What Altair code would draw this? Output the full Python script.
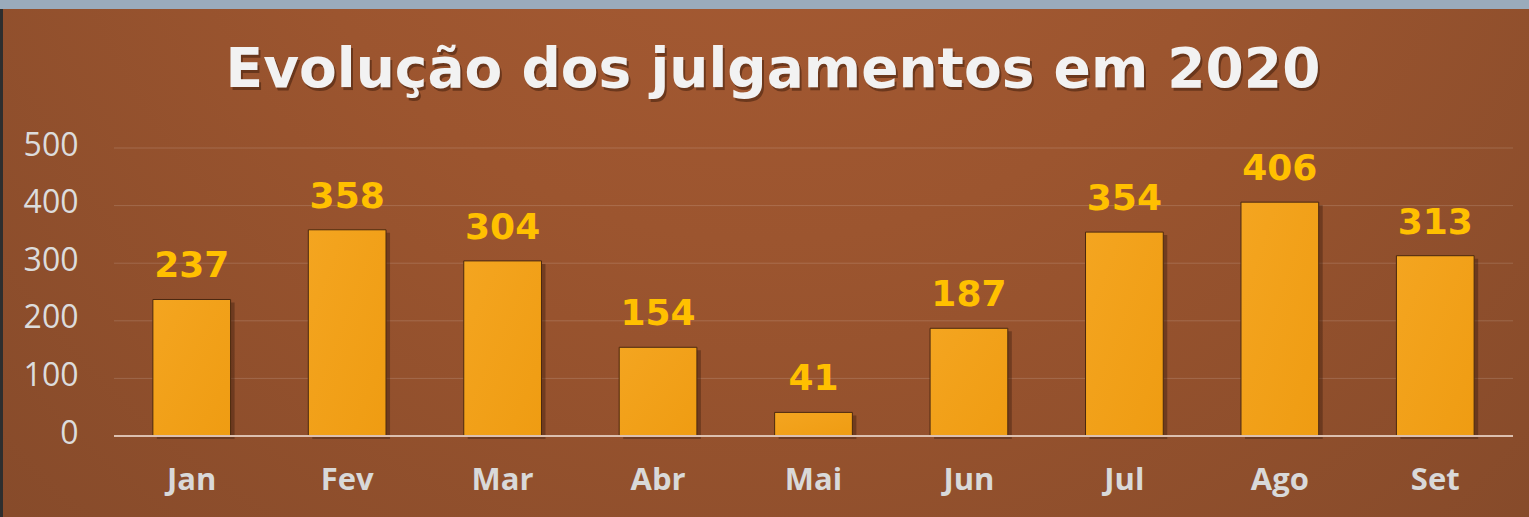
import altair as alt
import pandas as pd

months = ["Jan", "Fev", "Mar", "Abr", "Mai", "Jun", "Jul", "Ago", "Set"]
values = [237, 358, 304, 154, 41, 187, 354, 406, 313]
y_ticks = [0, 100, 200, 300, 400, 500]
title_text = "Evolução dos julgamentos em 2020"

df = pd.DataFrame({"mes": months, "n": values})
grid_df = pd.DataFrame({"n": y_ticks[1:]})
one = pd.DataFrame({"a": [0]})

W, H = 1399, 288
PL, PT, PR, PB = 114, 148, 16, 81

x_axis = alt.Axis(title=None, labelAngle=0, ticks=False, domain=False, grid=False,
                  labelFont="Open Sans", labelFontWeight="bold", labelFontSize=31,
                  labelColor="#d9d9d9", labelPadding=29, zindex=1)
y_axis = alt.Axis(title=None, values=y_ticks, ticks=False, domain=False, grid=False,
                  labelFont="Open Sans", labelFontSize=32, labelColor="#dcdcdc",
                  labelPadding=36, labelOffset=-3, zindex=1)
y_scale = alt.Scale(domain=[0, 500])

x_enc = alt.X("mes:N", sort=months,
              scale=alt.Scale(paddingInner=0.5, paddingOuter=0.25), axis=x_axis)
y_enc = alt.Y("n:Q", scale=y_scale, axis=y_axis)

bg = alt.Chart(one).mark_rect(
    color=alt.Gradient(gradient="radial",
                       stops=[alt.GradientStop(color="#a95c34", offset=0),
                              alt.GradientStop(color="#9c552f", offset=0.45),
                              alt.GradientStop(color="#854a2a", offset=1)],
                       x1=0.5, y1=0.15, x2=0.5, y2=0.15, r1=0, r2=0.75)
).encode(x=alt.value(-PL), x2=alt.value(W + PR), y=alt.value(-PT), y2=alt.value(H + PB))

top_strip = alt.Chart(one).mark_rect(color="#9aabbc").encode(
    x=alt.value(-PL), x2=alt.value(W + PR), y=alt.value(-PT), y2=alt.value(-PT + 9))
left_strip = alt.Chart(one).mark_rect(color="#2e2e2e").encode(
    x=alt.value(-PL), x2=alt.value(-PL + 3), y=alt.value(-PT + 9), y2=alt.value(H + PB))

grid = alt.Chart(grid_df).mark_rule(color="#ffffff", opacity=0.15, strokeWidth=1).encode(
    y=y_enc, x=alt.value(0), x2=alt.value(W))

shadow = alt.Chart(df).mark_bar(color="#3a1c0c", opacity=0.4, xOffset=4, yOffset=3, x2Offset=4).encode(
    x=x_enc, y=y_enc)

bars = alt.Chart(df).mark_bar(
    color=alt.Gradient(gradient="linear",
                       stops=[alt.GradientStop(color="#f4a520", offset=0),
                              alt.GradientStop(color="#ef9c12", offset=1)],
                       x1=0, y1=0, x2=1, y2=1),
    stroke="#4a2810", strokeWidth=1).encode(x=x_enc, y=y_enc)

labels = alt.Chart(df).mark_text(font="DejaVu Sans", fontWeight="bold", fontSize=36, color="#ffc000",
                                 baseline="alphabetic", dy=-22).encode(
    x=x_enc, y=y_enc, text="n:Q")

zero = alt.Chart(one).mark_rule(color="#dcc0b0", strokeWidth=2).encode(
    x=alt.value(0), x2=alt.value(W), y=alt.value(H))

title_shadow = alt.Chart(one).mark_text(text=title_text, font="DejaVu Sans", fontWeight="bold",
                                        fontSize=55, color="#3a1a0a", opacity=0.5,
                                        baseline="middle", align="center").encode(
    x=alt.value(661), y=alt.value(-75))
title = alt.Chart(one).mark_text(text=title_text, font="DejaVu Sans", fontWeight="bold",
                                 fontSize=55, color="#f2f2f2",
                                 baseline="middle", align="center").encode(
    x=alt.value(659), y=alt.value(-78))

chart = alt.layer(bg, top_strip, left_strip, grid, shadow, bars, zero, labels, title_shadow, title).properties(
    width=W, height=H,
    padding={"left": PL, "top": PT, "right": PR, "bottom": PB},
    autosize=alt.AutoSizeParams(type="none"),
    background="#8b4e2c",
).configure_view(stroke=None)

chart.save("out.html", embed_options={"renderer": "svg", "actions": False})
